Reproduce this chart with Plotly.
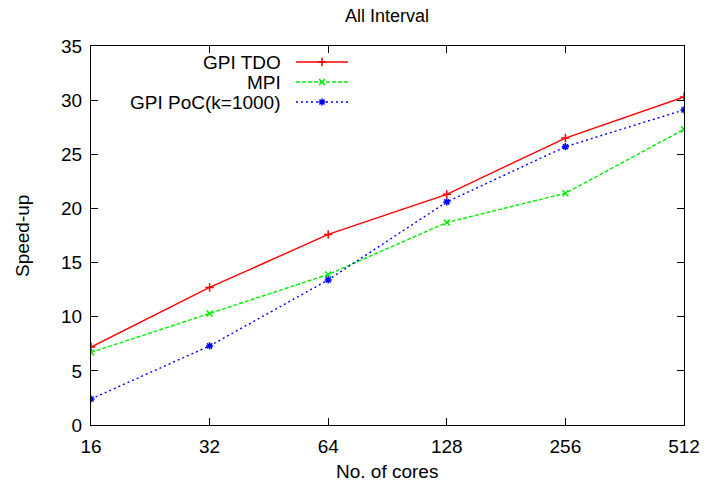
import plotly.graph_objects as go

# data
cores = [16, 32, 64, 128, 256, 512]
gpi_tdo = [7.2, 12.7, 17.6, 21.3, 26.5, 30.3]
mpi = [6.7, 10.3, 13.9, 18.7, 21.4, 27.3]
gpi_poc = [2.4, 7.3, 13.4, 20.6, 25.7, 29.1]

series_names = ["GPI TDO", "MPI", "GPI PoC(k=1000)"]
series_data = [gpi_tdo, mpi, gpi_poc]
colors = ["#ff0000", "#00ee00", "#0000ff"]
dashes = ["solid", "4px,2px", "2px,3px"]
symbols = ["cross-thin", "x-thin", "asterisk"]

FONT = "Liberation Sans, Arial, sans-serif"
FS = 19

fig = go.Figure()
for name, ys, c, d, s in zip(series_names, series_data, colors, dashes, symbols):
    fig.add_trace(go.Scatter(
        x=cores, y=ys, name=name, mode="lines+markers",
        line=dict(color=c, width=1.4, dash=d),
        marker=dict(symbol=s, size=6, color=c, line=dict(color=c, width=1.5)),
        showlegend=False,
    ))

# gnuplot-style key: text right aligned, sample to the right
W, H, L, T = 593, 379, 91, 46
def px(x): return (x - L) / W
def py(y): return (T + H - y) / H

key_y = [62, 82, 102]
for name, c, d, s, ky in zip(series_names, colors, dashes, symbols, key_y):
    fig.add_annotation(x=px(283), y=py(ky), xref="paper", yref="paper",
                       text=name, showarrow=False, xanchor="right", yanchor="middle",
                       font=dict(family=FONT, size=FS, color="black"))
    fig.add_shape(type="line", xref="paper", yref="paper",
                  x0=px(296), x1=px(348), y0=py(ky), y1=py(ky),
                  line=dict(color=c, width=1.4, dash=d))
    fig.add_trace(go.Scatter(
        x=[px(322)], y=[py(ky)], xaxis="x2", yaxis="y2", mode="markers",
        marker=dict(symbol=s, size=6, color=c, line=dict(color=c, width=1.5)),
        showlegend=False, hoverinfo="skip",
    ))

# axis titles and chart title
fig.add_annotation(x=px(387), y=py(471), xref="paper", yref="paper",
                   text="No. of cores", showarrow=False,
                   xanchor="center", yanchor="middle",
                   font=dict(family=FONT, size=FS, color="black"))
fig.add_annotation(x=px(22), y=py(236), xref="paper", yref="paper",
                   text="Speed-up", showarrow=False, textangle=-90,
                   xanchor="center", yanchor="middle",
                   font=dict(family=FONT, size=FS, color="black"))
fig.add_annotation(x=px(387), y=py(16), xref="paper", yref="paper",
                   text="All Interval", showarrow=False,
                   xanchor="center", yanchor="middle",
                   font=dict(family=FONT, size=FS - 1, color="black"))

axis_common = dict(
    showline=True, linecolor="black", linewidth=1.2, mirror="allticks",
    ticks="inside", ticklen=7, tickcolor="black", tickwidth=1,
    showgrid=False, zeroline=False, automargin=False,
    tickfont=dict(family=FONT, size=FS, color="black"),
)

fig.update_layout(
    width=704, height=489,
    paper_bgcolor="white", plot_bgcolor="white",
    margin=dict(l=L, r=704 - L - W, t=T, b=489 - T - H),
    xaxis=dict(type="log", range=[1.2041, 2.70927], tickvals=cores,
               ticktext=[str(c) for c in cores], ticklabelstandoff=4,
               **axis_common),
    yaxis=dict(range=[0, 35], tickvals=[0, 5, 10, 15, 20, 25, 30, 35],
               ticklabelstandoff=4,
               **axis_common),
    xaxis2=dict(overlaying="x", range=[0, 1], visible=False),
    yaxis2=dict(overlaying="y", range=[0, 1], visible=False),
    showlegend=False,
)

fig.write_html("out.html", config={"displayModeBar": False},
               post_script="document.body.style.margin='0';")
